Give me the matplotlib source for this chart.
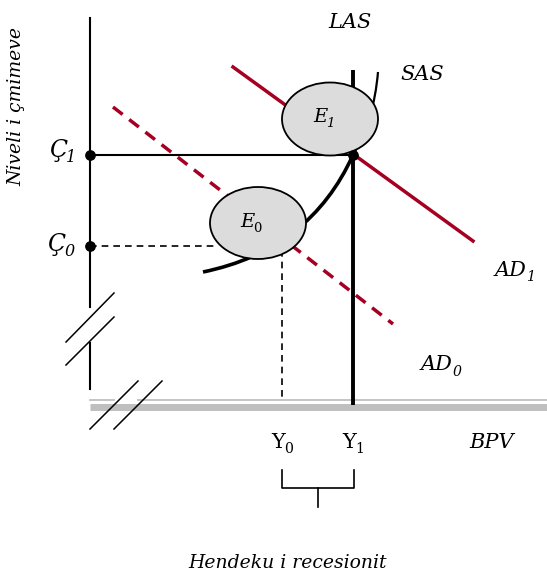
import matplotlib
matplotlib.use("Agg")
import matplotlib.pyplot as plt
from matplotlib.patches import Ellipse, PathPatch
from matplotlib.path import Path

plt.rcParams['font.family'] = ['DejaVu Serif']

RED = '#a50021'
GREY = '#bfbfbf'

# diagram coordinates (pixel space of the drawing)
price_axis_top = [90, 18, 307]
price_axis_low = [90, 343, 389]
axis_breaks_v = [[(66, 342), (114, 293)], [(66, 365), (114, 317)]]
axis_breaks_h = [[(90, 429), (138, 381)], [(114, 429), (162, 381)]]
output_axis_x = [90, 547]
las_x = 353
las_y = [70, 405]
y0_x = 282
p0_y = 246
p1_y = 155
ad1_line = [(233, 67), (473, 241)]
ad0_line = [(113, 107), (393, 324)]
sas_low = [(203, 272), (310, 250), (353, 155)]
sas_high = [(353, 155), (374, 120), (378, 72)]
ellipse_e1 = (330, 119, 96, 73)
ellipse_e0 = (258, 223, 96, 72)
bracket_x = [282, 354]
bracket_y = [470, 488, 507]

fig = plt.figure(figsize=(5.47, 5.71), dpi=100)
ax = fig.add_axes([0, 0, 1, 1])
ax.set_xlim(0, 547)
ax.set_ylim(571, 0)
ax.axis('off')
renderer = fig.canvas.get_renderer()


def sub_label(x, y, base, sub, size, base_style='italic', sub_style='italic', z=7):
    # base text centred at (x, y), subscript glued to its right
    t = ax.text(x, y, base, style=base_style, fontsize=size, ha='center',
                va='center', zorder=z)
    bb = t.get_window_extent(renderer)
    right = bb.x1 * 547 / fig.bbox.width
    ax.text(right - size * 0.05, y + size * 0.45, sub, style=sub_style,
            fontsize=size * 0.68, ha='left', va='center', zorder=z)


# price axis
ax.plot([price_axis_top[0]] * 2, price_axis_top[1:], color='black', lw=1.5)
ax.plot([price_axis_low[0]] * 2, price_axis_low[1:], color='black', lw=1.5)
for (a, b) in axis_breaks_v + axis_breaks_h:
    ax.plot([a[0], b[0]], [a[1], b[1]], color='black', lw=1.1, zorder=5)

# output axis (double grey line)
ax.plot([output_axis_x[0], 114], [400, 400], color=GREY, lw=1.3)
ax.plot([138, output_axis_x[1]], [400, 400], color=GREY, lw=1.3)
ax.plot(output_axis_x, [407, 407], color=GREY, lw=5, solid_capstyle='butt')

# guide lines
ax.plot([90, las_x], [p1_y, p1_y], color='black', lw=1.5)
ax.plot([90, 215], [p0_y, p0_y], color='black', lw=1.2, ls=(0, (4, 3)))
ax.plot([y0_x, y0_x], [250, 399], color='black', lw=1.2, ls=(0, (4, 3)))

# LAS
ax.plot([las_x, las_x], las_y, color='black', lw=2.8, solid_capstyle='butt')

# AD curves
ax.plot(*zip(*ad1_line), color=RED, lw=2.5)
ax.plot(*zip(*ad0_line), color=RED, lw=2.5, ls=(0, (3.5, 2.4)))

# SAS
codes = [Path.MOVETO, Path.CURVE3, Path.CURVE3]
ax.add_patch(PathPatch(Path(sas_low, codes), fc='none', ec='black', lw=2.6))
ax.add_patch(PathPatch(Path(sas_high, codes), fc='none', ec='black', lw=1.6))

# equilibrium bubbles
for (cx, cy, w, h) in [ellipse_e1, ellipse_e0]:
    ax.add_patch(Ellipse((cx, cy), w, h, fc='#dcdcdc', ec='black', lw=1.3, zorder=6))
sub_label(ellipse_e1[0] - 10, ellipse_e1[1] - 2, 'E', '1', 14)
sub_label(ellipse_e0[0] - 11, ellipse_e0[1] - 1, 'E', '0', 14, sub_style='normal')

# points
ax.scatter([90, 90, las_x], [p1_y, p0_y, p1_y], s=45, color='black', zorder=8)

# labels
fs = 15
ax.text(350, 22, 'LAS', style='italic', fontsize=fs, ha='center', va='center')
ax.text(422, 74, 'SAS', style='italic', fontsize=fs, ha='center', va='center')
sub_label(511, 270, 'AD', '1', fs)
sub_label(437, 365, 'AD', '0', fs)
ax.text(492, 442, 'BPV', style='italic', fontsize=fs, ha='center', va='center')
sub_label(y0_x - 4, 442, 'Y', '0', fs, base_style='normal', sub_style='normal')
sub_label(las_x - 4, 442, 'Y', '1', fs, base_style='normal', sub_style='normal')
sub_label(58, 150, 'Ç', '1', 17)
sub_label(56, 244, 'Ç', '0', 17)
ax.text(16, 107, 'Niveli i çmimeve', style='italic', fontsize=13.5, rotation=90,
        ha='center', va='center')
ax.text(288, 563, 'Hendeku i recesionit', style='italic', fontsize=13.5,
        ha='center', va='center')

# recession gap bracket
ax.plot([bracket_x[0], bracket_x[0], bracket_x[1], bracket_x[1]],
        [bracket_y[0], bracket_y[1], bracket_y[1], bracket_y[0]], color='black', lw=1.2)
mid = (bracket_x[0] + bracket_x[1]) / 2
ax.plot([mid, mid], bracket_y[1:], color='black', lw=1.2)

fig.savefig('out.png', dpi=100)
